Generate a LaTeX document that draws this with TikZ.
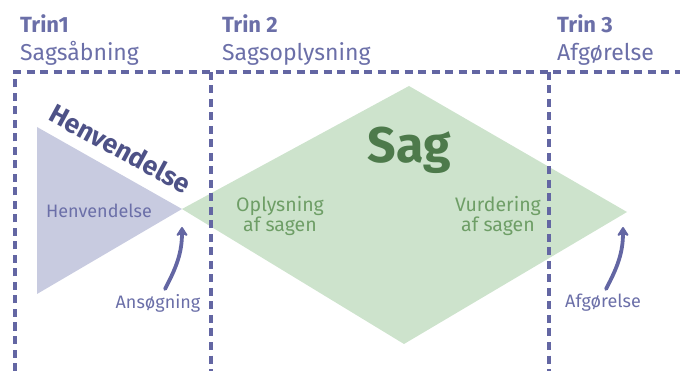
\documentclass[tikz,border=0pt]{standalone}
\usepackage{fontspec}
\setmainfont{Fira Sans}
\usetikzlibrary{arrows.meta}
\definecolor{purp}{HTML}{6366A3}
\definecolor{purpdark}{HTML}{4E5287}
\definecolor{purptext}{HTML}{6B6FA8}
\definecolor{trifill}{HTML}{C8CBE0}
\definecolor{diafill}{HTML}{CDE3CC}
\definecolor{gdark}{HTML}{4D7A4B}
\definecolor{gtext}{HTML}{6E9E66}
\tikzset{
  dashline/.style={draw=purp, line width=3.2pt, dash pattern=on 8pt off 5.5pt},
  trintitle/.style={anchor=base west, inner sep=0pt, text=purptext, font=\fontsize{22}{24}\selectfont\bfseries},
  trinsub/.style={anchor=base west, inner sep=0pt, text=purptext, font=\fontsize{23}{25}\selectfont},
  greenlbl/.style={align=center, inner sep=0pt, text=gtext, font=\fontsize{19.5}{20}\selectfont},
  purplbl/.style={inner sep=0pt, text=purptext, font=\fontsize{18}{20}\selectfont},
  curvearrow/.style={draw=purp, line width=3.8pt, line cap=round, -{Stealth[length=11pt,width=14pt,inset=3.5pt,round]}},
}
\begin{document}
\begin{tikzpicture}[x=1pt,y=-1pt]
\useasboundingbox (0,0) rectangle (680,371);
% shapes
\coordinate (tA) at (37,127);
\coordinate (tB) at (37,294);
\coordinate (apex) at (182,209);
\coordinate (dT) at (409,86);
\coordinate (dR) at (627,212);
\coordinate (dB) at (404,344);
\fill[trifill] (tA) -- (apex) -- (tB) -- cycle;
\fill[diafill] (apex) -- (dT) -- (dR) -- (dB) -- cycle;
% dashed frame
\coordinate (fR) at (680,72);
\coordinate (v1t) at (15,72);
\coordinate (v1b) at (15,371);
\coordinate (v2t) at (211,72);
\coordinate (v2b) at (211,371);
\coordinate (v3t) at (549,72);
\coordinate (v3b) at (549,371);
\draw[dashline] (v1b) -- (v1t) -- (fR);
\draw[dashline] (v2t) -- (v2b);
\draw[dashline] (v3t) -- (v3b);
% headings
\node[trintitle] (t1) at (20,33) {Trin1};
\node[trinsub] (s1) at (20,61) {Sagsåbning};
\node[trintitle] (t2) at (222,33) {Trin 2};
\node[trinsub] (s2) at (222,61) {Sagsoplysning};
\node[trintitle] (t3) at (557,33) {Trin 3};
\node[trinsub] (s3) at (557,61) {Afgørelse};
% labels
\node[rotate=-28.5, anchor=base, inner sep=0pt, text=purpdark, font=\fontsize{26.5}{28}\selectfont\bfseries] (hb) at (116,157) {Henvendelse};
\node[purplbl] (hs) at (99,211) {Henvendelse};
\node[inner sep=0pt, text=gdark, font=\fontsize{50}{54}\selectfont\bfseries] (sag) at (409,150) {Sag};
\node[greenlbl] (opl) at (280,216) {Oplysning\\af sagen};
\node[greenlbl] (vur) at (498,216) {Vurdering\\af sagen};
\node[purplbl] (ans) at (158,303) {Ansøgning};
\node[purplbl] (afg) at (603,303) {Afgørelse};
% arrows
\coordinate (a1s) at (165,289);
\coordinate (a1e) at (182,227);
\coordinate (a2s) at (606,289);
\coordinate (a2e) at (623,227);
\draw[curvearrow] (a1s) to[out=62,in=-90] (a1e);
\draw[curvearrow] (a2s) to[out=62,in=-90] (a2e);
\end{tikzpicture}
\end{document}
